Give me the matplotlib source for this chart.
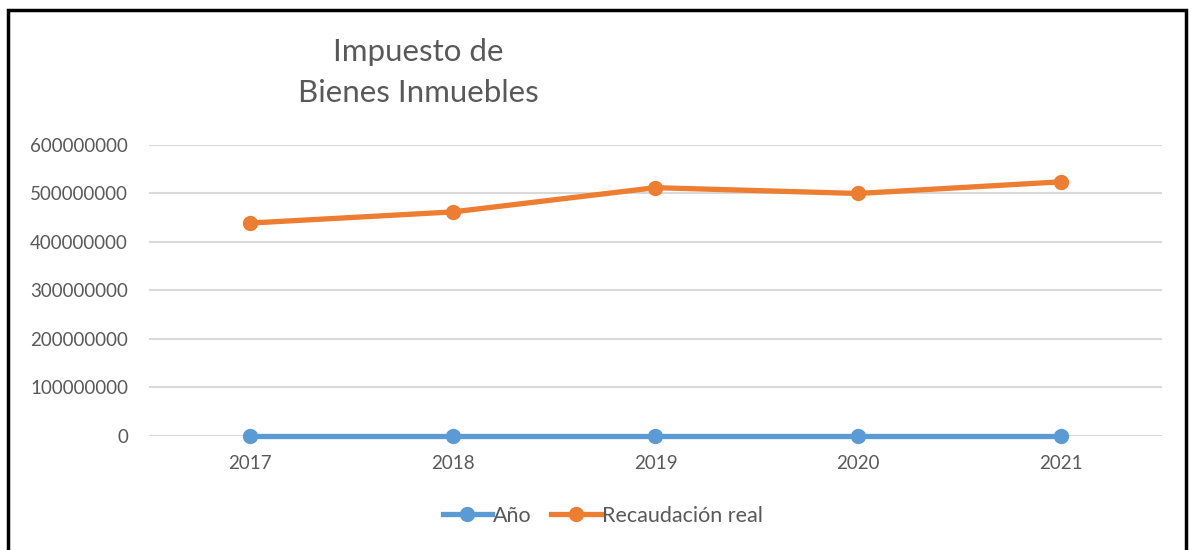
import matplotlib.pyplot as plt
from matplotlib.patches import Rectangle
from matplotlib.ticker import FuncFormatter

years = ['2017', '2018', '2019', '2020', '2021']
anio = [2017, 2018, 2019, 2020, 2021]
recaudacion = [439000000, 462000000, 512000000, 500000000, 524000000]
yticks = [0, 100000000, 200000000, 300000000, 400000000, 500000000, 600000000]

plt.rcParams['font.family'] = ['Lato', 'DejaVu Sans']
txt = '#595959'

fig = plt.figure(figsize=(11.91, 5.5), dpi=100)
ax = fig.add_axes([0.125, 0.2073, 0.8507, 0.5291])

x = range(len(years))
ax.plot(x, anio, color='#5b9bd5', linewidth=3.8, marker='o', markersize=10,
        label='Año', zorder=3, clip_on=False)
ax.plot(x, recaudacion, color='#ed7d31', linewidth=3.8, marker='o', markersize=10,
        label='Recaudación real', zorder=3, clip_on=False)

ax.set_xlim(-0.5, len(years) - 0.5)
ax.set_ylim(0, 600000000)
ax.set_yticks(yticks)
ax.yaxis.set_major_formatter(FuncFormatter(lambda v, p: f'{int(v)}'))
ax.set_xticks(list(x))
ax.set_xticklabels(years)
ax.grid(axis='y', color='#d9d9d9', linewidth=1.5, zorder=0)
ax.set_axisbelow(True)
for s in ax.spines.values():
    s.set_visible(False)
ax.tick_params(axis='both', length=0, labelsize=13.5, colors=txt)
ax.tick_params(axis='y', pad=15)
ax.tick_params(axis='x', pad=14)
ax.patch.set_alpha(0)

# title in two lines, like the original
fig.text(0.351, 0.905, 'Impuesto de', ha='center', va='center', fontsize=22.5, color=txt)
fig.text(0.351, 0.83, 'Bienes Inmuebles', ha='center', va='center', fontsize=22.5, color=txt)

fig.legend(loc='center', bbox_to_anchor=(0.506, 0.062), ncol=2, frameon=False,
           fontsize=15.5, labelcolor=txt, handlelength=2.3, handletextpad=0.05,
           columnspacing=0.9)

# black outline around the chart
fig.patches.append(Rectangle((8 / 1191, -0.05), 1178 / 1191, 1.05 - 10 / 550,
                             transform=fig.transFigure, fill=False,
                             edgecolor='black', linewidth=2.5))

fig.savefig('out.png', dpi=100)
